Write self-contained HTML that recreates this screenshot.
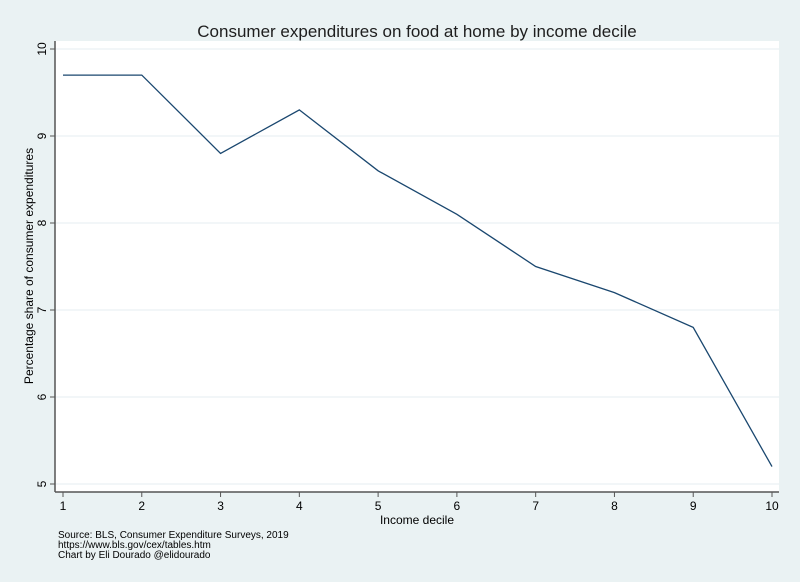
<!DOCTYPE html>
<html><head><meta charset="utf-8"><style>
body{margin:0;background:#eaf2f3;}
svg{display:block;font-family:"Liberation Sans",Arial,sans-serif;}
</style></head><body>
<svg id="chart" width="800" height="582">
<rect width="800" height="582" fill="#eaf2f3"/>
<rect x="55" y="41" width="724" height="451" fill="#ffffff"/>
<text x="417" y="37" text-anchor="middle" font-size="17" fill="#1e1e1e">Consumer expenditures on food at home by income decile</text>
<g id="grid"></g>
<g id="axes"></g>
<path id="line" fill="none" stroke="#1a476f" stroke-width="1.3"/>
<text x="417" y="524" text-anchor="middle" font-size="12" fill="#000">Income decile</text>
<text transform="translate(33,266) rotate(-90)" text-anchor="middle" font-size="12" fill="#000">Percentage share of consumer expenditures</text>
<g font-size="10" fill="#000">
<text x="58" y="538">Source: BLS, Consumer Expenditure Surveys, 2019</text>
<text x="58" y="548">https://www.bls.gov/cex/tables.htm</text>
<text x="58" y="558">Chart by Eli Dourado @elidourado</text>
</g>
</svg>
<script>
const categories=[1,2,3,4,5,6,7,8,9,10];
const values=[9.7,9.7,8.8,9.3,8.6,8.1,7.5,7.2,6.8,5.2];
const yTicks=[5,6,7,8,9,10];
const ns="http://www.w3.org/2000/svg";
const xs=c=>63+(c-1)*(772-63)/9;
const ys=v=>484-(v-5)*87;
const grid=document.getElementById('grid'),axes=document.getElementById('axes');
function mk(t,a,p){const e=document.createElementNS(ns,t);for(const k in a)e.setAttribute(k,a[k]);p.appendChild(e);return e;}
mk('line',{x1:55,y1:41,x2:55,y2:492,stroke:'#555',"stroke-width":1.5},axes);
mk('line',{x1:55,y1:492,x2:779,y2:492,stroke:'#555',"stroke-width":1.5},axes);
yTicks.forEach(v=>{
 const g=mk('line',{x1:55,y1:ys(v),x2:779,y2:ys(v),stroke:'#e6eef0',"stroke-width":1},grid);
 
 
 mk('line',{x1:50,y1:ys(v),x2:55,y2:ys(v),stroke:'#555'},axes);
 const t=mk('text',{transform:`translate(46,${ys(v)}) rotate(-90)`,"text-anchor":"middle","font-size":12},axes);
 t.textContent=v;
 
 
});
categories.forEach(c=>{
 mk('line',{x1:xs(c),y1:492,x2:xs(c),y2:497,stroke:'#555'},axes);
 const t=mk('text',{x:xs(c),y:510,"text-anchor":"middle","font-size":12},axes);
 t.textContent=c;
 
 
});
document.getElementById('line').setAttribute('d',values.map((v,i)=>(i?'L':'M')+xs(categories[i])+','+ys(v)).join(''));
</script>
</body></html>
